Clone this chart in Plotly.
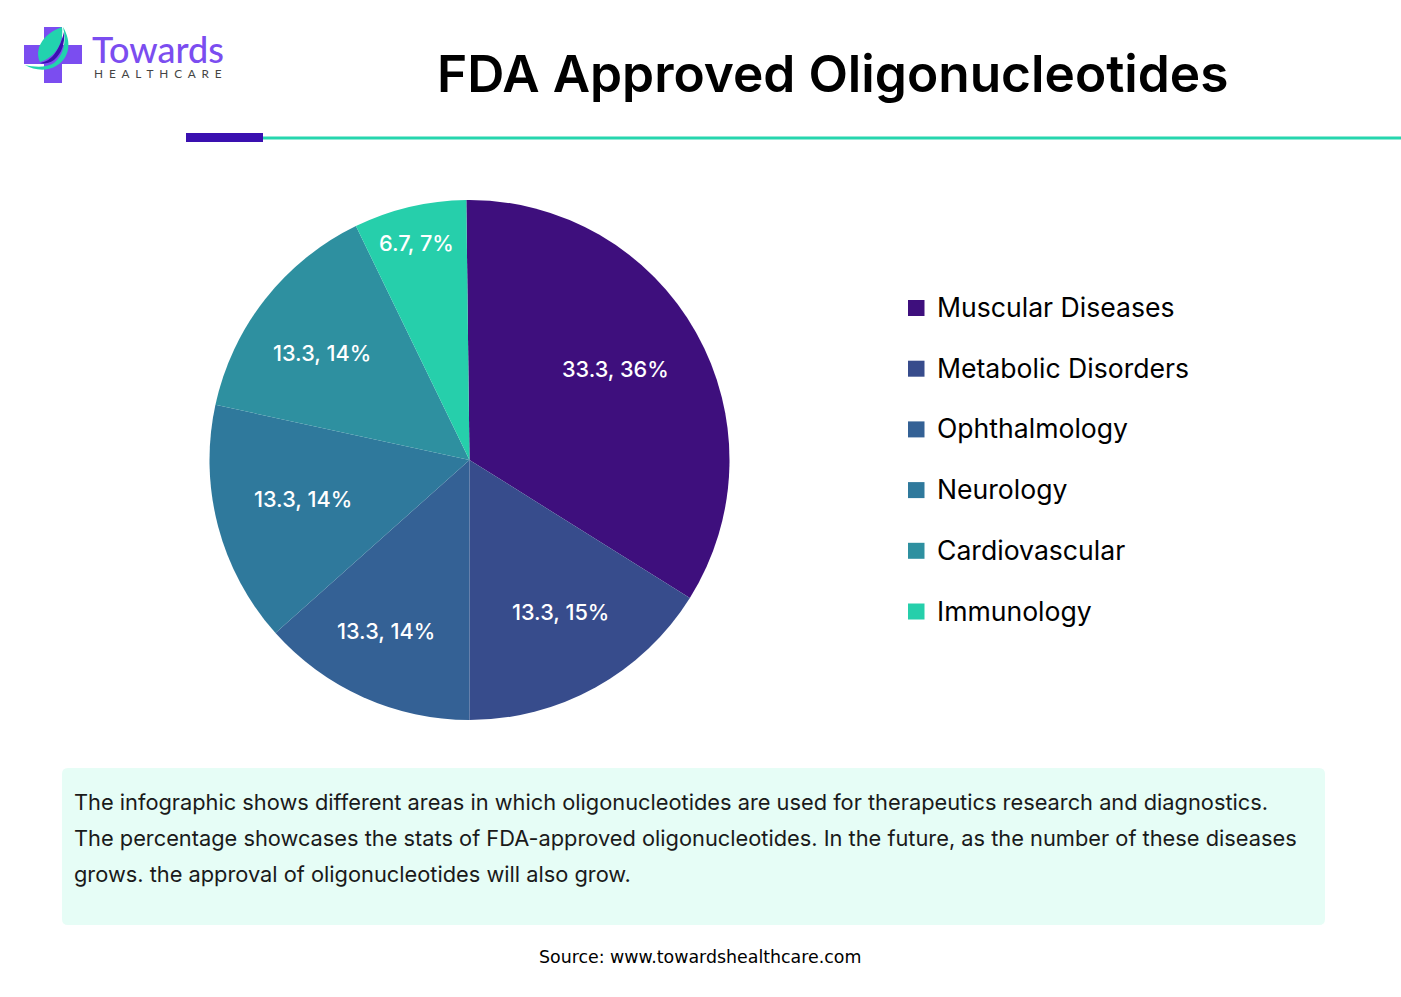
import math
import plotly.graph_objects as go

W, H = 1401, 997

categories = ["Muscular Diseases", "Metabolic Disorders", "Ophthalmology",
              "Neurology", "Cardiovascular", "Immunology"]
# numbers printed on the slices
printed_values = ["33.3", "13.3", "13.3", "13.3", "13.3", "6.7"]
printed_percent = ["36%", "15%", "14%", "14%", "14%", "7%"]
slice_share = [34.1, 16.1, 13.4, 15.0, 14.4, 7.0]
colors = ["#3E0F7D", "#374C8C", "#346195", "#2F799C", "#2E90A0", "#26CFAB"]

note_lines = [
    "The infographic shows different areas in which oligonucleotides are used for therapeutics research and diagnostics.",
    "The percentage showcases the stats of FDA-approved oligonucleotides. In the future, as the number of these diseases",
    "grows. the approval of oligonucleotides will also grow.",
]


def px(x):
    return x / W


def py(y):
    return 1 - y / H


def rect(x0, y0, x1, y1, color):
    return dict(type="rect", xref="paper", yref="paper", x0=px(x0), x1=px(x1),
                y0=py(y0), y1=py(y1), fillcolor=color, line_width=0, layer="below")


def path(points, color):
    # points are pixel pairs, "M"/"C"/"Z" letters are passed as they are
    out = []
    for p in points:
        if isinstance(p, str):
            out.append(p)
        else:
            out.append("%.5f,%.5f" % (px(p[0]), py(p[1])))
    return dict(type="path", xref="paper", yref="paper", path=" ".join(out),
                fillcolor=color, line_width=0)


def label(x, y, text, size, color="#000000", anchor="left", family="Inter", weight=400):
    # annotations pad their text by about 2.5px on the left
    if anchor == "left":
        x -= 2.5
    return dict(xref="paper", yref="paper", x=px(x), y=py(y), text=text, showarrow=False,
                xanchor=anchor, yanchor="middle", align=anchor,
                font=dict(family=family, size=size, color=color, weight=weight))


ROTATION = -0.7
CX, CY, R = 469.5, 460, 260

pie = go.Pie(
    labels=categories,
    values=slice_share,
    customdata=[v + ", " + p for v, p in zip(printed_values, printed_percent)],
    textinfo="none",
    marker=dict(colors=colors, line=dict(width=0)),
    sort=False,
    direction="clockwise",
    rotation=ROTATION,
    domain=dict(x=[px(CX - R), px(CX + R)], y=[py(CY + R), py(CY - R)]),
    showlegend=False,
    hovertemplate="%{label}: %{customdata}<extra></extra>",
)

fig = go.Figure(pie)

shapes = [
    rect(263, 136.5, 1401, 139.5, "#26D6AE"),
    rect(186, 133, 263, 142, "#3A10B0"),
    dict(type="path", xref="paper", yref="paper", layer="below", line_width=0, fillcolor="#E6FDF6",
         path="M %f,%f L %f,%f Q %f,%f %f,%f L %f,%f Q %f,%f %f,%f L %f,%f Q %f,%f %f,%f L %f,%f Q %f,%f %f,%f Z" % (
             px(68), py(768), px(1319), py(768), px(1325), py(768), px(1325), py(774),
             px(1325), py(919), px(1325), py(925), px(1319), py(925),
             px(68), py(925), px(62), py(925), px(62), py(919),
             px(62), py(774), px(62), py(768), px(68), py(768))),
    # logo cross and leaf
    rect(44, 27, 62, 83, "#7B4DF0"),
    rect(24, 45, 82, 64, "#7B4DF0"),
    path(["M", (63, 27), "C", (72, 42), (70, 58), (56, 66), "C", (46, 72), (34, 70), (25, 65),
          "C", (34, 67), (46, 68), (54, 63), "C", (63, 56), (67, 42), (63, 27), "Z"], "#22D3AE"),
    path(["M", (64, 32), "C", (65, 44), (62, 53), (54, 60), "C", (48, 64), (43, 64), (40, 63),
          "C", (48, 62), (58, 56), (64, 32), "Z"], "#3A10B0"),
    path(["M", (62, 27), "C", (64, 42), (56, 57), (40, 62), "C", (34, 50), (42, 34), (62, 27), "Z"], "#22D3AE"),
]

annotations = [
    label(92, 49, "Towards", 36, color="#7B4DF0", family="Lato", weight=500),
    label(94, 73, "H\u00a0\u00a0E\u00a0\u00a0A\u00a0\u00a0L\u00a0\u00a0T\u00a0\u00a0H\u00a0\u00a0C\u00a0\u00a0A\u00a0\u00a0R\u00a0\u00a0E",
          11.8, color="#444444", family="Lato"),
    label(832.5, 73, "FDA Approved Oligonucleotides", 51.4, anchor="center", weight=600),
    label(700, 957, "Source: www.towardshealthcare.com", 17.4, anchor="center", family="DejaVu Sans"),
]

# slice labels sit near each slice's middle angle
label_radius = [172, 177, 190, 171, 182, 223]
label_angle_shift = [-2.7, -2.0, 1.8, 1.7, -2.1, -0.4]
total = sum(slice_share)
start = ROTATION
for i, share in enumerate(slice_share):
    mid = math.radians(start + share / total * 180 + label_angle_shift[i])
    start += share / total * 360
    annotations.append(label(CX + label_radius[i] * math.sin(mid), CY - label_radius[i] * math.cos(mid),
                             printed_values[i] + ", " + printed_percent[i], 21.7,
                             color="#FFFFFF", anchor="center", weight=500))

# legend rows
for i, name in enumerate(categories):
    y = 308 + i * 60.7
    shapes.append(rect(908, y - 8, 924.5, y + 8, colors[i]))
    annotations.append(label(937.5, y - 1, name, 26.6))

for i, line in enumerate(note_lines):
    annotations.append(label(74, 802 + i * 36, line, 21.8, color="#1A1A1A"))

fig.update_layout(
    width=W,
    height=H,
    margin=dict(l=0, r=0, t=0, b=0),
    paper_bgcolor="#FFFFFF",
    shapes=shapes,
    annotations=annotations,
)

# the page body has a default 8px margin
fig.write_html("out.html", config=dict(displayModeBar=False),
               post_script="document.body.style.margin='0';")
